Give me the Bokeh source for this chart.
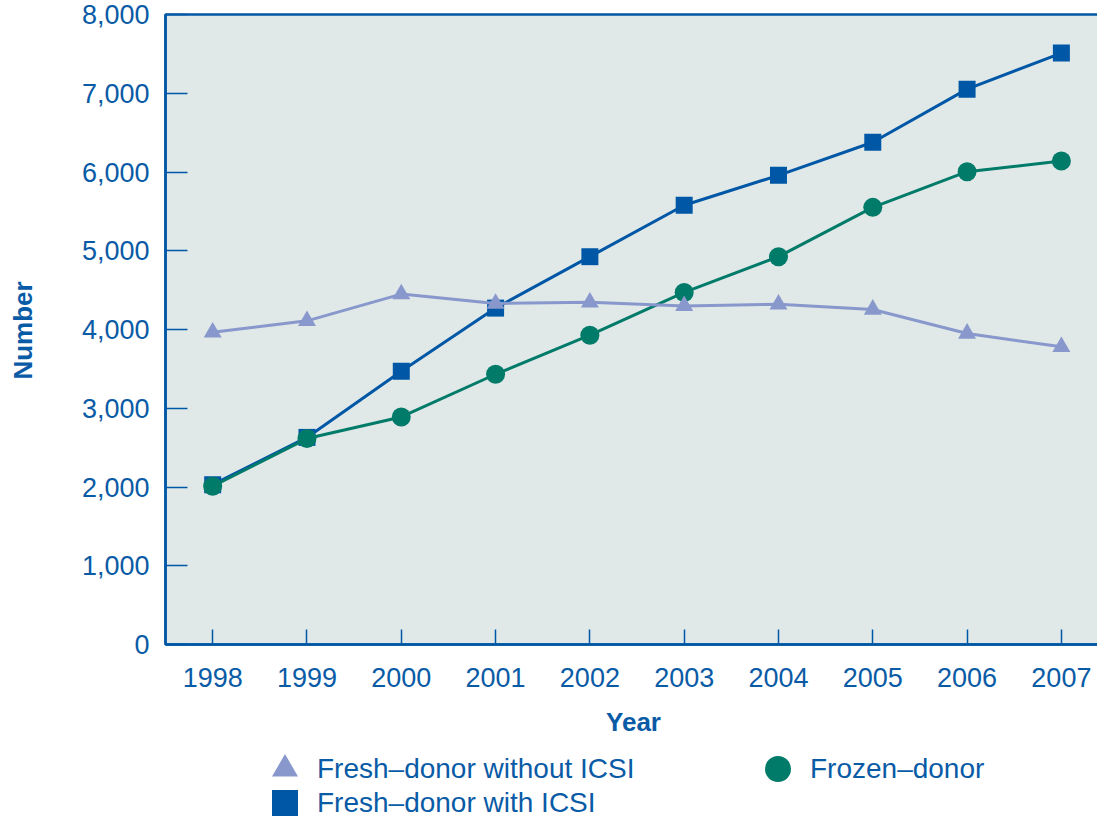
import math
from bokeh.plotting import figure
from bokeh.models import (Range1d, FixedTicker, NumeralTickFormatter,
                          Legend, LegendItem, BoxAnnotation, Label)
from bokeh.embed import file_html
from bokeh.resources import INLINE

# Annual counts by donor-cycle type
years = [1998, 1999, 2000, 2001, 2002, 2003, 2004, 2005, 2006, 2007]
fresh_without_icsi = [3965, 4110, 4450, 4330, 4345, 4300, 4320, 4255, 3950, 3780]
fresh_with_icsi = [2030, 2630, 3470, 4272, 4925, 5578, 5958, 6378, 7052, 7510]
frozen_donor = [2010, 2615, 2890, 3432, 3928, 4471, 4925, 5551, 6004, 6140]

y_ticks = [0, 1000, 2000, 3000, 4000, 5000, 6000, 7000, 8000]
x_ticks = years

series_labels = ["Fresh\u2013donor without ICSI", "Fresh\u2013donor with ICSI", "Frozen\u2013donor"]
x_title = "Year"
y_title = "Number"

BLUE_TEXT = "#0a5ba6"
DARK_BLUE = "#0057a6"
LIGHT_BLUE = "#8898cc"
TEAL = "#007a69"
BG = "#e0e9e8"
FONT = "Liberation Sans"

# Plotting area spans 1997.5 .. right edge and 0 .. 8,000; the frame is
# widened to the whole page so axis titles and the key can be drawn in it.
X_LO, X_HI = 1995.75, 2007.383
Y_LO, Y_HI = -2184, 8178
AREA_LEFT = 1997.5

p = figure(width=1097, height=816, output_backend="svg", toolbar_location=None,
           x_range=Range1d(X_LO, X_HI), y_range=Range1d(Y_LO, Y_HI),
           min_border=0)

p.background_fill_color = "white"
p.border_fill_color = "white"
p.outline_line_color = None
p.grid.visible = False

# Shaded plotting area with its top border
p.add_layout(BoxAnnotation(left=AREA_LEFT, right=X_HI + 1, bottom=0, top=8000,
                           fill_color=BG, fill_alpha=1,
                           line_color=DARK_BLUE, line_alpha=1, line_width=2.5,
                           level="underlay"))

# Bottom axis, pinned at zero
xa = p.xaxis[0]
xa.fixed_location = 0
xa.bounds = (AREA_LEFT, X_HI + 1)
xa.ticker = FixedTicker(ticks=x_ticks)
xa.axis_line_color = DARK_BLUE
xa.axis_line_width = 2.5
xa.major_tick_line_color = DARK_BLUE
xa.major_tick_line_width = 1.5
xa.major_tick_in = 15
xa.major_tick_out = 0
xa.minor_tick_line_color = None
xa.major_label_standoff = 23
xa.major_label_text_font = FONT
xa.major_label_text_font_size = "27px"
xa.major_label_text_color = BLUE_TEXT

# Left axis, pinned at the edge of the plotting area
ya = p.yaxis[0]
ya.fixed_location = AREA_LEFT
ya.bounds = (0, 8000)
ya.ticker = FixedTicker(ticks=y_ticks)
ya.formatter = NumeralTickFormatter(format="0,0")
ya.axis_line_color = DARK_BLUE
ya.axis_line_width = 2.5
ya.major_tick_line_color = DARK_BLUE
ya.major_tick_line_width = 1.5
ya.major_tick_in = 22
ya.major_tick_out = 0
ya.minor_tick_line_color = None
ya.major_label_standoff = 16
ya.major_label_text_font = FONT
ya.major_label_text_font_size = "27px"
ya.major_label_text_color = BLUE_TEXT

# Axis titles
title_style = dict(x_units="screen", y_units="screen", text_align="center",
                   text_baseline="middle", text_font=FONT,
                   text_font_size="26px", text_font_style="bold",
                   text_color=BLUE_TEXT)
p.add_layout(Label(x=22, y=486, text=y_title, angle=math.pi / 2, **title_style))
p.add_layout(Label(x=633, y=95, text=x_title, **title_style))

# Series
p.line(years, fresh_with_icsi, line_color=DARK_BLUE, line_width=3)
sq = p.scatter(years, fresh_with_icsi, marker="square", size=17,
               fill_color=DARK_BLUE, line_color=None)

p.line(years, frozen_donor, line_color=TEAL, line_width=3)
ci = p.scatter(years, frozen_donor, marker="circle", size=19,
               fill_color=TEAL, line_color=None)

p.line(years, fresh_without_icsi, line_color=LIGHT_BLUE, line_width=3)
tr = p.scatter(years, fresh_without_icsi, marker="triangle", size=18,
               fill_color=LIGHT_BLUE, line_color=None)


def key_entry(label, renderer, loc):
    return Legend(items=[LegendItem(label=label, renderers=[renderer])],
                  location=loc, orientation="vertical",
                  glyph_width=65, glyph_height=65, label_height=65,
                  label_standoff=0, spacing=0, padding=0, margin=0,
                  border_line_color=None, background_fill_alpha=0,
                  label_text_font=FONT, label_text_font_size="28px",
                  label_text_color=BLUE_TEXT)


p.add_layout(key_entry(series_labels[0], tr, (252, 15)), "center")
p.add_layout(key_entry(series_labels[1], sq, (252, -19)), "center")
p.add_layout(key_entry(series_labels[2], ci, (745, 15)), "center")

open("out.html", "w").write(file_html(p, INLINE))
